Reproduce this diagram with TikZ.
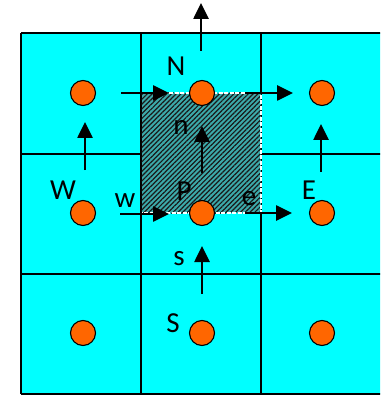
\documentclass[tikz,border=0pt]{standalone}
\usepackage{fontspec}
\setmainfont{Carlito}
\usetikzlibrary{arrows.meta,patterns.meta}
\definecolor{cellcyan}{RGB}{0,255,255}
\definecolor{dotorange}{RGB}{255,102,0}
\definecolor{hatchbg}{RGB}{60,170,170}
\tikzset{
  grid line/.style={line width=1.4pt, draw=black},
  dot/.style={circle, draw=black, line width=1.1pt, fill=dotorange, minimum size=25pt, inner sep=0pt},
  flux/.style={line width=2.6pt, -{Triangle[length=16pt,width=15pt]}},
  lbl/.style={font=\fontsize{29}{29}\selectfont, inner sep=0pt, text=black}
}
\begin{document}
\begin{tikzpicture}[x=1pt,y=-1pt]
\useasboundingbox (0,0) rectangle (380,395);
\begin{scope}
\clip (0,0) rectangle (380,395);
% cells
\fill[cellcyan] (21,33) rectangle (400,394);
% grid
\draw[grid line] (21,33) -- (400,33);
\draw[grid line] (21,154) -- (400,154);
\draw[grid line] (21,274) -- (400,274);
\draw[grid line] (21,394) -- (400,394);
\draw[grid line] (21,33) -- (21,394);
\draw[grid line] (141,33) -- (141,394);
\draw[grid line] (261,33) -- (261,394);
\end{scope}
% hatched control volume
\fill[hatchbg] (141.7,93) rectangle (261,213);
\fill[pattern={Lines[angle=45,distance=3.4pt,line width=1.2pt]}, pattern color=black!90] (141.7,93) rectangle (261,213);
\draw[white, line width=1.1pt, dash pattern=on 4pt off 1.5pt] (141.7,93) -- (261,93) -- (261,213) -- (141.7,213);
% nodes
\node[dot] (NW) at (83,93) {};
\node[dot] (N) at (202,93) {};
\node[dot] (NE) at (322,93) {};
\node[dot] (W) at (83,213) {};
\node[dot] (P) at (202,213) {};
\node[dot] (E) at (322,213) {};
\node[dot] (SW) at (83,333) {};
\node[dot] (S) at (202,333) {};
\node[dot] (SE) at (322,333) {};
% arrow end points
\coordinate (topA) at (201,51);   \coordinate (topB) at (201,3);
\coordinate (nlA) at (121,93);    \coordinate (nlB) at (169,93);
\coordinate (nrA) at (245,93);    \coordinate (nrB) at (293,93);
\coordinate (wvA) at (85,170);    \coordinate (wvB) at (85,122);
\coordinate (evA) at (321,172);   \coordinate (evB) at (321,124);
\coordinate (nvA) at (202,173);   \coordinate (nvB) at (202,126);
\coordinate (wA) at (120,214);    \coordinate (wB) at (169,214);
\coordinate (eA) at (245,213);    \coordinate (eB) at (292,213);
\coordinate (svA) at (202,294);   \coordinate (svB) at (202,246);
\draw[flux] (topA) -- (topB);
\draw[flux] (nlA) -- (nlB);
\draw[flux] (nrA) -- (nrB);
\draw[flux] (wvA) -- (wvB);
\draw[flux] (evA) -- (evB);
\draw[flux] (nvA) -- (nvB);
\draw[flux] (wA) -- (wB);
\draw[flux] (eA) -- (eB);
\draw[flux] (svA) -- (svB);
% labels
\node[lbl] (lN) at (176,66) {N};
\node[lbl] (ln) at (181,127) {n};
\node[lbl] (lW) at (63,190) {W};
\node[lbl] (lw) at (125,201) {w};
\node[lbl] (lP) at (184,191) {P};
\node[lbl] (le) at (249,199) {e};
\node[lbl] (lE) at (309,190) {E};
\node[lbl] (ls) at (179,259) {s};
\node[lbl] (lS) at (173,323) {S};
\end{tikzpicture}
\end{document}
